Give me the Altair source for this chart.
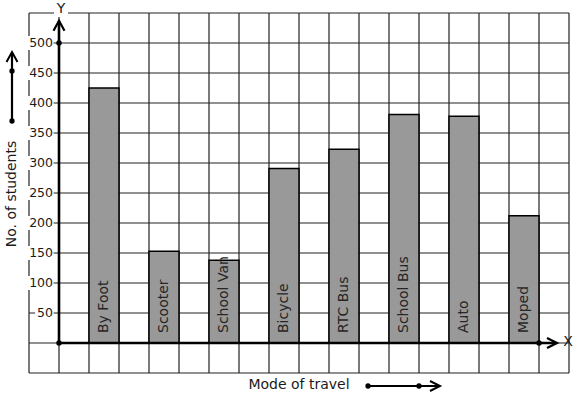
import altair as alt
import pandas as pd

# ---- data ----
modes = ["By Foot", "Scooter", "School Van", "Bicycle", "RTC Bus", "School Bus", "Auto", "Moped"]
students = [425, 153, 138, 291, 323, 381, 378, 212]
y_ticks = [50, 100, 150, 200, 250, 300, 350, 400, 450, 500]
y_tick_labels = ["50", "100", "150", "200", "250", "300", "350", "400", "450", "500"]
grid_cols = list(range(-1, 18))          # vertical grid lines (column units)
grid_rows = list(range(-50, 551, 50))    # horizontal grid lines (student units)

W, H = 577, 399
FONT = "DejaVu Sans"
COL_PX = 30.0
X0_PX, Y0_PX = 59.0, 343.0
Y_PX_PER_UNIT = 0.6

xs = alt.Scale(domain=[-X0_PX / COL_PX, (W - X0_PX) / COL_PX], range=[0, W], nice=False, zero=False)
ys = alt.Scale(domain=[-(H - Y0_PX) / Y_PX_PER_UNIT, Y0_PX / Y_PX_PER_UNIT], range=[H, 0], nice=False, zero=False)


def X(f):
    return alt.X(f, type="quantitative", scale=xs, axis=None)


def X2(f):
    return alt.X2(f)


def Y(f):
    return alt.Y(f, type="quantitative", scale=ys, axis=None)


def Y2(f):
    return alt.Y2(f)


grid_v_df = pd.DataFrame({"gx": grid_cols, "y0": min(grid_rows), "y1": max(grid_rows)})
grid_h_df = pd.DataFrame({"gy": grid_rows, "x0": min(grid_cols), "x1": max(grid_cols)})

bars_df = pd.DataFrame({"mode": modes, "students": students})
bars_df["pos"] = [2 * i + 1 for i in range(len(modes))]
bars_df["pos2"] = bars_df["pos"] + 1
bars_df["mid"] = bars_df["pos"] + 0.5
bars_df["zero"] = 0

TICK_FS = 12.5
ticks_df = pd.DataFrame({"v": y_ticks, "lab": y_tick_labels})
ticks_df["xr"] = -0.18
ticks_df["xl"] = [-0.2 - (len(s) * TICK_FS * 0.636 + 2.0) / COL_PX for s in y_tick_labels]
ticks_df["vlo"] = ticks_df["v"] - 11.5
ticks_df["vhi"] = ticks_df["v"] + 11.5
ticks_df["x0"] = 0

GRID = "#222222"
TXT = "#1a1a1a"

vgrid = alt.Chart(grid_v_df).mark_rule(color=GRID, strokeWidth=1.2).encode(
    x=X("gx"), y=Y("y0"), y2=Y2("y1"))
hgrid = alt.Chart(grid_h_df).mark_rule(color=GRID, strokeWidth=1.2).encode(
    y=Y("gy"), x=X("x0"), x2=X2("x1"))

bars = alt.Chart(bars_df).mark_rect(fill="#999999", stroke="#000000", strokeWidth=1.5).encode(
    x=X("pos"), x2=X2("pos2"), y=Y("zero"), y2=Y2("students"))

bar_text = alt.Chart(bars_df).mark_text(
    angle=270, align="left", baseline="middle", dx=10, font=FONT, fontSize=14, color="#262626"
).encode(x=X("mid"), y=Y("zero"), text="mode:N")

tick_box = alt.Chart(ticks_df).mark_rect(fill="white").encode(
    x=X("xl"), x2=X2("xr"), y=Y("vlo"), y2=Y2("vhi"))
tick_text = alt.Chart(ticks_df).mark_text(
    align="right", baseline="middle", dx=-6, font=FONT, fontSize=TICK_FS, color=TXT
).encode(x=X("x0"), y=Y("v"), text="lab:N")

# axes (thick arrows)
yaxis_df = pd.DataFrame({"x": [0], "ya": [0], "yb": [537]})
xaxis_df = pd.DataFrame({"y": [0], "xa": [0], "xb": [16.6]})
yaxis = alt.Chart(yaxis_df).mark_rule(color="black", strokeWidth=2.6).encode(
    x=X("x"), y=Y("ya"), y2=Y2("yb"))
xaxis = alt.Chart(xaxis_df).mark_rule(color="black", strokeWidth=2.6).encode(
    y=Y("y"), x=X("xa"), x2=X2("xb"))
yhead = alt.Chart(yaxis_df).mark_point(
    shape="M-0.55,1L0,0L0.55,1", size=400, filled=False, stroke="black", strokeWidth=2.2, opacity=1
).encode(x=X("x"), y=Y("yb"))
xhead = alt.Chart(xaxis_df).mark_point(
    shape="M-1,-0.5L0,0L-1,0.5", size=400, filled=False, stroke="black", strokeWidth=2.2, opacity=1
).encode(x=X("xb"), y=Y("y"))

dots_df = pd.DataFrame({"dx": [0, 0, 16], "dy": [0, 500, 0]})
dots = alt.Chart(dots_df).mark_circle(size=30, color="black", opacity=1).encode(x=X("dx"), y=Y("dy"))

# axis letters
ybox = alt.Chart(yaxis_df).mark_rect(fill="white").encode(
    x=alt.value(54), x2=alt.value(68), y=alt.value(3), y2=alt.value(17))
yletter = alt.Chart(yaxis_df).mark_text(
    text="Y", font=FONT, fontSize=14, color=TXT, align="center", baseline="middle"
).encode(x=alt.value(61), y=alt.value(9))
xletter = alt.Chart(xaxis_df).mark_text(
    text="X", font=FONT, fontSize=14, color=TXT, align="center", baseline="middle"
).encode(x=alt.value(568), y=alt.value(342))

# axis titles with arrows
ytitle = alt.Chart(yaxis_df).mark_text(
    text="No. of students", font=FONT, fontSize=14, color=TXT, angle=270,
    align="center", baseline="middle"
).encode(x=alt.value(12), y=alt.value(194))
xtitle = alt.Chart(xaxis_df).mark_text(
    text="Mode of travel", font=FONT, fontSize=14, color=TXT,
    align="center", baseline="middle"
).encode(x=alt.value(299), y=alt.value(385))

larrow = alt.Chart(yaxis_df).mark_rule(color="black", strokeWidth=2.2).encode(
    x=alt.value(12), y=alt.value(53), y2=alt.value(121))
larrow_head = alt.Chart(yaxis_df).mark_point(
    shape="M-0.55,1L0,0L0.55,1", size=400, filled=False, stroke="black", strokeWidth=2, opacity=1
).encode(x=alt.value(12), y=alt.value(52))
larrow_dot1 = alt.Chart(yaxis_df).mark_circle(size=28, color="black", opacity=1).encode(
    x=alt.value(12), y=alt.value(121))
larrow_dot2 = alt.Chart(yaxis_df).mark_circle(size=28, color="black", opacity=1).encode(
    x=alt.value(12), y=alt.value(71))

barrow = alt.Chart(xaxis_df).mark_rule(color="black", strokeWidth=2.2).encode(
    y=alt.value(386), x=alt.value(368), x2=alt.value(439))
barrow_head = alt.Chart(xaxis_df).mark_point(
    shape="M-1,-0.5L0,0L-1,0.5", size=400, filled=False, stroke="black", strokeWidth=2, opacity=1
).encode(x=alt.value(440), y=alt.value(386))
barrow_dot1 = alt.Chart(xaxis_df).mark_circle(size=28, color="black", opacity=1).encode(
    x=alt.value(368), y=alt.value(386))
barrow_dot2 = alt.Chart(xaxis_df).mark_circle(size=28, color="black", opacity=1).encode(
    x=alt.value(419), y=alt.value(386))

chart = alt.layer(
    vgrid, hgrid, bars, bar_text, tick_box, tick_text,
    yaxis, xaxis, yhead, xhead, dots,
    ybox, yletter, xletter, ytitle, xtitle,
    larrow, larrow_head, larrow_dot1, larrow_dot2,
    barrow, barrow_head, barrow_dot1, barrow_dot2,
).properties(
    width=W, height=H, padding=0, autosize=alt.AutoSizeParams(type="none"),
    background="white",
).configure_view(stroke=None)

chart.save("out.html", embed_options={"renderer": "svg", "actions": False})
